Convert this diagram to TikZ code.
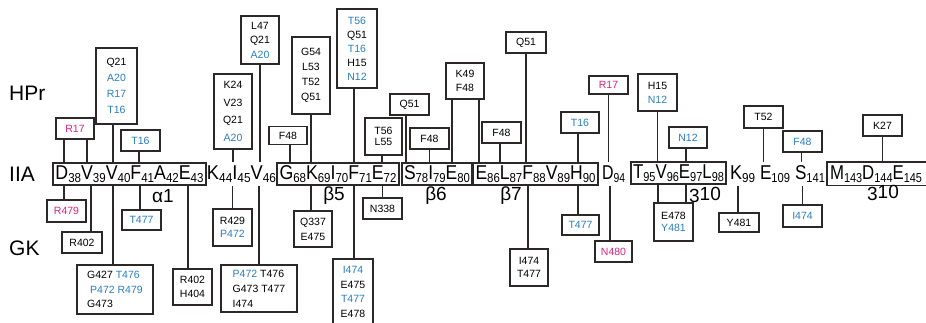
\documentclass[tikz,border=0pt]{standalone}
\usepackage{fontspec}
\setmainfont{Liberation Sans}
\usepackage{graphicx}
\definecolor{resblue}{RGB}{40,125,195}
\definecolor{resmag}{RGB}{220,35,125}
\definecolor{linec}{RGB}{45,40,40}
\newcommand\bl[1]{\textcolor{resblue}{#1}}
\newcommand\mg[1]{\textcolor{resmag}{#1}}
\newcommand\rs[2]{#1\raisebox{-3pt}{\fontsize{13}{13}\selectfont #2}}
\newcommand\conup[3]{\draw[cn] ([xshift=#2pt]#1.south) -- ([xshift=#2pt]#1.south |- #3.north);}
\newcommand\condn[3]{\draw[cn] ([xshift=#2pt]#1.north) -- ([xshift=#2pt]#1.north |- #3.south);}
\newcommand\tenhelix{3\raisebox{1.5pt}{10}}
\begin{document}
\begin{tikzpicture}[x=1pt,y=-1pt,
  lb/.style={draw=linec, line width=1.6pt, inner sep=0pt, align=center, font=\fontsize{10.5}{#1}\selectfont},
  lb/.default=14,
  cn/.style={draw=linec, line width=1.3pt},
  boxline/.style={draw=linec, line width=1.6pt},
  ch/.style={draw=linec, line width=1.6pt, inner sep=0pt, minimum height=22pt, text height=14pt, text depth=3pt, font=\fontsize{20}{20}\selectfont},
  chu/.style={ch, draw=none},
  tag/.style={font=\fontsize{21}{21}\selectfont, anchor=west, inner sep=0pt},
  hx/.style={font=\fontsize{19}{19}\selectfont, inner sep=0pt}]
\useasboundingbox (0,0) rectangle (926,322);
% row labels
\node[tag] (tHPr) at (9,93) {HPr};
\node[tag] (tIIA) at (9,174) {IIA};
\node[tag] (tGK) at (9,248) {GK};
% chain
\node[ch, minimum width=153pt] (c1) at (129.5,174) {\resizebox{148pt}{\height}{\rs{D}{38}\rs{V}{39}\rs{V}{40}\rs{F}{41}\rs{A}{42}\rs{E}{43}}};
\node[chu] (u1) at (241.5,174) {\resizebox{69pt}{\height}{\rs{K}{44}\rs{I}{45}\rs{V}{46}}};
\node[ch, minimum width=122pt] (c2) at (338,174) {\resizebox{117pt}{\height}{\rs{G}{68}\rs{K}{69}\rs{I}{70}\rs{F}{71}\rs{E}{72}}};
\node[ch, minimum width=70pt] (c3) at (437,174) {\resizebox{66pt}{\height}{\rs{S}{78}\rs{I}{79}\rs{E}{80}}};
\node[ch, minimum width=125pt] (c4) at (535.5,174) {\resizebox{120pt}{\height}{\rs{E}{86}\rs{L}{87}\rs{F}{88}\rs{V}{89}\rs{H}{90}}};
\node[chu] (u2) at (613.5,174) {\resizebox{23pt}{\height}{\rs{D}{94}}};
\node[ch, minimum width=95pt] (c5) at (678.5,173) {\resizebox{91pt}{\height}{\rs{T}{95}\rs{V}{96}\rs{E}{97}\rs{L}{98}}};
\node[chu] (u3) at (742.5,174) {\resizebox{25pt}{\height}{\rs{K}{99}}};
\node[chu] (u4) at (775,174) {\resizebox{30pt}{\height}{\rs{E}{109}}};
\node[chu] (u5) at (810,174) {\resizebox{30pt}{\height}{\rs{S}{141}}};
\node[chu] (c6) at (876,173.5) {\resizebox{92pt}{\height}{\rs{M}{143}\rs{D}{144}\rs{E}{145}}};
\draw[boxline] ([xshift=-2pt]c6.north west) rectangle ([xshift=14pt]c6.south east);
% helix labels
\node[hx] (hx1) at (163,196) {α1};
\node[hx] (hx2) at (334,196) {β5};
\node[hx] (hx3) at (436,196) {β6};
\node[hx] (hx4) at (511,196) {β7};
\node[hx] (hx5) at (705,195) {\tenhelix};
\node[hx] (hx6) at (883,193) {\tenhelix};
% HPr boxes
\node[lb, minimum width=38pt, minimum height=21pt] (hA) at (75,128.5) {\mg{R17}};
\node[lb=16, minimum width=41pt, minimum height=76pt] (hB) at (116.5,86) {Q21\\\bl{A20}\\\bl{R17}\\\bl{T16}};
\node[lb, minimum width=39pt, minimum height=21pt] (hC) at (140.5,140.5) {\bl{T16}};
\node[lb=17.5, minimum width=38pt, minimum height=75pt] (hD) at (233,111.5) {K24\\V23\\Q21\\\bl{A20}};
\node[lb=14.5, minimum width=38pt, minimum height=48pt] (hE) at (260,40) {L47\\Q21\\\bl{A20}};
\node[lb, minimum width=38pt, minimum height=18pt] (hF) at (288,135.5) {F48};
\node[lb=15, minimum width=38pt, minimum height=77pt] (hG) at (311,75.5) {G54\\L53\\T52\\Q51};
\node[lb=14, minimum width=40pt, minimum height=79pt] (hH) at (357,48.5) {\bl{T56}\\Q51\\\bl{T16}\\H15\\\bl{N12}};
\node[lb=11, minimum width=37pt, minimum height=37pt] (hI) at (383.5,136.5) {T56\\L55};
\node[lb, minimum width=39pt, minimum height=21pt] (hJ) at (409.5,104.5) {Q51};
\node[lb, minimum width=39pt, minimum height=21pt] (hK) at (429.5,138.5) {F48};
\node[lb=14.5, minimum width=38pt, minimum height=36pt] (hL) at (465,81) {K49\\F48};
\node[lb, minimum width=39pt, minimum height=21pt] (hM) at (501.5,132.5) {F48};
\node[lb, minimum width=40pt, minimum height=21pt] (hN) at (526,42.5) {Q51};
\node[lb, minimum width=38pt, minimum height=21pt] (hO) at (580,122.5) {\bl{T16}};
\node[lb, minimum width=39pt, minimum height=18pt] (hP) at (608.5,85) {\mg{R17}};
\node[lb, minimum width=39pt, minimum height=37pt] (hQ) at (657.5,92.5) {H15\\\bl{N12}};
\node[lb, minimum width=38pt, minimum height=21pt] (hR) at (688,137.5) {\bl{N12}};
\node[lb, minimum width=39pt, minimum height=22pt] (hS) at (763.5,117) {T52};
\node[lb, minimum width=39pt, minimum height=21pt] (hT) at (802.5,141.5) {\bl{F48}};
\node[lb, minimum width=39pt, minimum height=21pt] (hU) at (882.5,125.5) {K27};
% GK boxes
\node[lb, minimum width=39pt, minimum height=22pt] (gA) at (66.5,211) {\mg{R479}};
\node[lb, minimum width=40pt, minimum height=21pt] (gB) at (82,242.5) {R402};
\node[lb=14.5, align=left, minimum width=76pt, minimum height=49pt] (gC) at (115,289.5) {G427 \bl{T476}\\\hspace{3pt}\bl{P472 R479}\\G473};
\node[lb, minimum width=39pt, minimum height=20pt] (gD) at (141.5,220) {\bl{T477}};
\node[lb, minimum width=39pt, minimum height=36pt] (gE) at (192.5,287) {R402\\H404};
\node[lb=13.5, minimum width=39pt, minimum height=37pt] (gF) at (232.5,227.5) {R429\\\bl{P472}};
\node[lb=15, align=left, minimum width=76pt, minimum height=47pt] (gG) at (259,288.5) {\bl{P472} T476\\G473 T477\\I474};
\node[lb=15, minimum width=38pt, minimum height=36pt] (gH) at (313,229) {Q337\\E475};
\node[lb=14.5, minimum width=40pt, minimum height=66pt] (gI) at (353,292) {\bl{I474}\\E475\\\bl{T477}\\E478};
\node[lb, minimum width=39pt, minimum height=21pt] (gJ) at (382.5,208.5) {N338};
\node[lb=12.5, minimum width=38pt, minimum height=37pt] (gK) at (529,267.5) {I474\\T477};
\node[lb, minimum width=37pt, minimum height=20pt] (gL) at (580.5,225) {\bl{T477}};
\node[lb, minimum width=37pt, minimum height=21pt] (gM) at (613.5,251.5) {\mg{N480}};
\node[lb=12.5, minimum width=39pt, minimum height=38pt] (gN) at (673.5,222) {E478\\\bl{Y481}};
\node[lb, minimum width=40pt, minimum height=19pt] (gO) at (739,222.5) {Y481};
\node[lb, minimum width=39pt, minimum height=22pt] (gP) at (802.5,216) {\bl{I474}};
% connectors HPr -> IIA
\conup{hA}{-11}{c1}
\conup{hA}{12}{c1}
\conup{hB}{-3.5}{c1}
\conup{hC}{-1.5}{c1}
\conup{hD}{0}{u1}
\conup{hE}{0}{u1}
\conup{hF}{2}{c2}
\conup{hG}{0}{c2}
\conup{hH}{-3}{c2}
\conup{hI}{-1.5}{c2}
\conup{hJ}{-3.5}{c3}
\conup{hK}{0}{c3}
\conup{hL}{-13}{c3}
\conup{hL}{14}{c4}
\conup{hM}{-1.5}{c4}
\conup{hN}{0}{c4}
\conup{hO}{-2}{c4}
\conup{hP}{0}{u2}
\conup{hQ}{0}{c5}
\conup{hR}{-2}{c5}
\conup{hS}{0}{u4}
\conup{hT}{-1}{u5}
\conup{hU}{0}{c6}
% connectors IIA -> GK
\condn{gA}{-2.5}{c1}
\condn{gB}{9}{c1}
\condn{gC}{-2}{c1}
\condn{gD}{-1.5}{c1}
\condn{gE}{-4.5}{c1}
\condn{gF}{0}{u1}
\condn{gG}{0}{u1}
\condn{gH}{-2}{c2}
\condn{gI}{1}{c2}
\condn{gJ}{0}{c2}
\condn{gK}{-1}{c4}
\condn{gL}{-2.5}{c4}
\condn{gM}{-3.5}{u2}
\condn{gN}{-15.5}{c5}
\condn{gN}{12.5}{c5}
\condn{gO}{-1}{u3}
\condn{gP}{0}{u5}
\end{tikzpicture}
\end{document}
